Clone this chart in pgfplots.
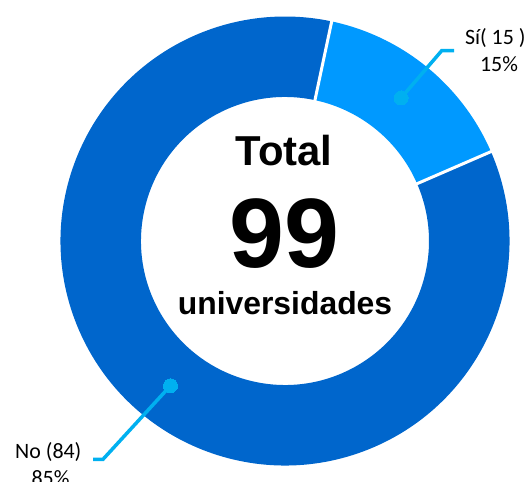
\documentclass[border=0pt]{standalone}
\usepackage{pgfplots}
\usepackage{pgfplotstable}
\pgfplotsset{compat=1.18}
\usepackage{fontspec}
\setmainfont{Carlito}
\newfontfamily\arialfont{Liberation Sans}
\definecolor{si}{HTML}{0099FF}
\definecolor{no}{HTML}{0066CC}
\definecolor{lead}{HTML}{00B0F0}

\pgfplotstableread{
label value
Si 15
No 84
}\datatable
\pgfplotstablegetelem{0}{value}\of\datatable\let\vSi\pgfplotsretval
\pgfplotstablegetelem{1}{value}\of\datatable\let\vNo\pgfplotsretval
\pgfmathsetmacro\total{\vSi+\vNo}
\pgfmathsetmacro\aStart{78}
\pgfmathsetmacro\aMid{\aStart-360*\vSi/\total}
\pgfmathsetmacro\aEnd{\aStart-360}
\def\Rout{224.5bp}
\def\Rin{144bp}

\begin{document}%
\begin{tikzpicture}
\begin{axis}[scale only axis, width=529bp, height=482bp,
  xmin=0, xmax=529, ymin=0, ymax=482, hide axis, clip=false]
  % wedges
  \fill[si, shift={(axis cs:285,241)}] (\aStart:\Rout) arc[start angle=\aStart, end angle=\aMid, radius=\Rout]
     -- (\aMid:\Rin) arc[start angle=\aMid, end angle=\aStart, radius=\Rin] -- cycle;
  \fill[no, shift={(axis cs:285,241)}] (\aMid:\Rout) arc[start angle=\aMid, end angle=\aEnd, radius=\Rout]
     -- (\aEnd:\Rin) arc[start angle=\aEnd, end angle=\aMid, radius=\Rin] -- cycle;
  \draw[white, line width=3bp, shift={(axis cs:285,241)}] (\aStart:140bp) -- (\aStart:229bp);
  \draw[white, line width=3bp, shift={(axis cs:285,241)}] (\aMid:140bp) -- (\aMid:229bp);
  % leader lines
  \addplot[lead, line width=3.5bp, no markers] coordinates {(401,384) (441.7,431.3) (454,431.3)};
  \addplot[lead, line width=3.5bp, no markers] coordinates {(170.5,96.3) (103,22.7) (93,22.7)};
  \addplot[lead, only marks, mark=*, mark size=7bp, mark options={draw=lead, fill=lead, line width=0pt}] coordinates {(401,384) (170.5,96.3)};
  % labels
  \node[anchor=base, font=\fontsize{22}{26}\selectfont, inner sep=0pt] at (axis cs:495.3,437) {Sí( 15 )};
  \node[anchor=base, font=\fontsize{22}{26}\selectfont, inner sep=0pt] at (axis cs:499,410.3) {15\%};
  \node[anchor=base, font=\fontsize{22}{26}\selectfont, inner sep=0pt] at (axis cs:48.3,24) {No (84)};
  \node[anchor=base, font=\fontsize{22}{26}\selectfont, inner sep=0pt] at (axis cs:50.5,-3) {85\%};
  % centre text
  \node[anchor=base, font=\arialfont\bfseries\fontsize{42}{48}\selectfont, inner sep=0pt] at (axis cs:284,316) {Total};
  \node[anchor=base, font=\arialfont\bfseries\fontsize{99}{110}\selectfont, inner sep=0pt] at (axis cs:284.5,214) {99};
  \node[anchor=base, font=\arialfont\bfseries\fontsize{32}{38}\selectfont, inner sep=0pt] at (axis cs:285,167) {universidades};
\end{axis}
\pgfresetboundingbox
\path[use as bounding box] (0,0) rectangle (529bp,482bp);
\end{tikzpicture}%
\end{document}
